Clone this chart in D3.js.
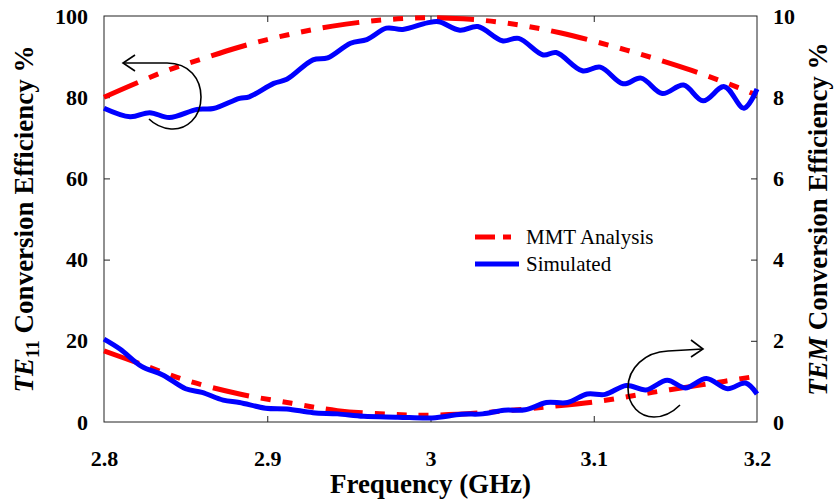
<!DOCTYPE html>
<html>
<head>
<meta charset="utf-8">
<script src="https://d3js.org/d3.v7.min.js"></script>
<style>
  body { margin: 0; background: #fff; }
  text { font-family: "Liberation Serif", "Times New Roman", serif; font-weight: bold; fill: #000; }
  .frame { fill: none; stroke: #222; stroke-width: 1px; }
  .tick line { stroke: #222; }
</style>
</head>
<body>
<svg id="chart" width="834" height="500"></svg>
<script>
// TE11 conversion, MMT analysis (left axis, %)
const mmtTopFreq = [2.80, 2.82, 2.84, 2.86, 2.88, 2.90, 2.92, 2.94, 2.96, 2.98, 3.00, 3.02, 3.04, 3.06, 3.08, 3.10, 3.12, 3.14, 3.16, 3.18, 3.20];
const mmtTop = [80, 83.5, 86.8, 89.4, 92, 94.2, 96, 97.5, 98.6, 99.3, 99.6, 99.3, 98.6, 97.4, 95.8, 93.8, 91.6, 89.2, 86.6, 83.7, 80.5];

// TE11 conversion, simulated (left axis, %)
const simTopFreq = [2.800, 2.816, 2.828, 2.840, 2.857, 2.867, 2.883, 2.889, 2.904, 2.912, 2.928, 2.937, 2.951, 2.961, 2.973, 2.983, 2.998, 3.005, 3.018, 3.029, 3.044, 3.054, 3.069, 3.077, 3.093, 3.104, 3.118, 3.129, 3.142, 3.155, 3.167, 3.180, 3.192, 3.200];
const simTop = [77.3, 75.2, 76.2, 75.0, 77.0, 77.2, 79.7, 80.1, 83.4, 84.4, 89.2, 89.7, 93.3, 94.2, 97.0, 96.7, 98.3, 98.6, 96.5, 97.4, 93.9, 94.5, 90.4, 91.0, 86.5, 87.4, 83.3, 84.7, 80.9, 83.0, 79.1, 82.6, 77.3, 82.0];

// TEM conversion, MMT analysis (right axis, %)
const mmtBotFreq = [2.800, 2.821, 2.850, 2.883, 2.915, 2.943, 2.975, 3.001, 3.032, 3.071, 3.105, 3.136, 3.167, 3.200];
const mmtBot = [1.75, 1.45, 1.03, 0.69, 0.46, 0.28, 0.19, 0.17, 0.23, 0.37, 0.52, 0.73, 0.92, 1.13];

// TEM conversion, simulated (right axis, %)
const simBotFreq = [2.800, 2.810, 2.823, 2.836, 2.850, 2.860, 2.873, 2.883, 2.899, 2.912, 2.928, 2.943, 2.959, 2.980, 3.001, 3.019, 3.032, 3.045, 3.058, 3.071, 3.084, 3.096, 3.107, 3.120, 3.132, 3.145, 3.156, 3.169, 3.182, 3.193, 3.200];
const simBot = [2.04, 1.79, 1.37, 1.16, 0.82, 0.73, 0.54, 0.48, 0.34, 0.32, 0.23, 0.20, 0.14, 0.12, 0.10, 0.19, 0.20, 0.29, 0.30, 0.48, 0.48, 0.69, 0.68, 0.90, 0.79, 1.03, 0.84, 1.07, 0.82, 0.96, 0.69];

const xTicks = [2.8, 2.9, 3.0, 3.1, 3.2];
const xTickLabels = ["2.8", "2.9", "3", "3.1", "3.2"];
const leftTicks = [0, 20, 40, 60, 80, 100];
const rightTicks = [0, 2, 4, 6, 8, 10];
const legendLabels = ["MMT Analysis", "Simulated"];

const svg = d3.select("#chart");
const margin = { top: 16, right: 77, bottom: 78, left: 104 };
const width = 834 - margin.left - margin.right;
const height = 500 - margin.top - margin.bottom;
const g = svg.append("g").attr("transform", "translate(" + margin.left + "," + margin.top + ")");

const x = d3.scaleLinear().domain([2.8, 3.2]).range([0, width]);
const yL = d3.scaleLinear().domain([0, 100]).range([height, 0]);
const yR = d3.scaleLinear().domain([0, 10]).range([height, 0]);

// matlab-ish dash-dot with thick line: one long dash then three short ones
const dashDot = "37,12,10,12,10,12,10,12";

// axes, ticks point inward
const axes = [
  { ax: d3.axisBottom(x).tickValues(xTicks).tickFormat((d, i) => xTickLabels[i]), t: "translate(0," + height + ")" },
  { ax: d3.axisTop(x).tickValues(xTicks).tickFormat(""), t: "translate(0,0)" },
  { ax: d3.axisLeft(yL).tickValues(leftTicks), t: "translate(0,0)" },
  { ax: d3.axisRight(yR).tickValues(rightTicks), t: "translate(" + width + ",0)" }
];
axes.forEach((a, i) => {
  const sel = g.append("g").attr("transform", a.t)
    .call(a.ax.tickSizeInner(-6).tickSizeOuter(0).tickPadding(i < 2 ? 28 : 16));
  sel.select(".domain").remove();
  sel.selectAll("text").style("font-size", "22px").attr("font-family", null);
});
g.selectAll(".tick").filter((d) => d === 0 || d === 100 || d === 10 || d === 2.8 || d === 3.2)
  .select("line").remove();

g.append("rect").attr("class", "frame").attr("width", width).attr("height", height);

const line = (yScale) => d3.line().x((d) => x(d[0])).y((d) => yScale(d[1])).curve(d3.curveCatmullRom.alpha(0.5));

const series = [
  { f: mmtTopFreq, v: mmtTop, y: yL, color: "#ff0000", dash: dashDot },
  { f: mmtBotFreq, v: mmtBot, y: yR, color: "#ff0000", dash: dashDot },
  { f: simTopFreq, v: simTop, y: yL, color: "#0000ff", dash: null },
  { f: simBotFreq, v: simBot, y: yR, color: "#0000ff", dash: null }
];
series.forEach((s) => {
  g.append("path")
    .datum(s.f.map((f, i) => [f, s.v[i]]))
    .attr("fill", "none")
    .attr("stroke", s.color)
    .attr("stroke-width", 5)
    .attr("stroke-dasharray", s.dash)
    .attr("d", line(s.y));
});

// curved arrows pointing at each axis
const arrows = g.append("g").attr("fill", "none").attr("stroke", "#000").attr("stroke-width", 1.6)
  .attr("transform", "translate(" + -margin.left + "," + -margin.top + ")");
arrows.append("path").attr("d", "M123,63 L165,63 C190,62 201,80 201,97 C201,118 186,130 171,129 C161,128 154,124 149,119");
arrows.append("path").attr("d", "M135,55 L123,63 L135,71");
arrows.append("path").attr("d", "M703,349 L668,351 C645,352 628,368 628,388 C628,406 640,417 654,417 C664,417 673,412 680,405");
arrows.append("path").attr("d", "M691,340 L703,349 L691,357");

// legend
const legend = g.append("g").attr("transform", "translate(" + (475 - margin.left) + "," + (237 - margin.top) + ")");
legendLabels.forEach((lab, i) => {
  const row = legend.append("g").attr("transform", "translate(0," + i * 27 + ")");
  row.append("line").attr("x1", 0).attr("x2", 44)
    .attr("stroke", i === 0 ? "#ff0000" : "#0000ff").attr("stroke-width", 5)
    .attr("stroke-dasharray", i === 0 ? "20,8,8,8" : null);
  row.append("text").attr("x", 51).attr("y", 7).style("font-size", "21px").style("font-weight", "normal").text(lab);
});

// axis titles
svg.append("text").attr("x", margin.left + width / 2).attr("y", 493).attr("text-anchor", "middle")
  .style("font-size", "27px").text("Frequency (GHz)");

const lt = svg.append("text").attr("transform", "translate(33," + (margin.top + height / 2) + ") rotate(-90)")
  .attr("text-anchor", "middle").style("font-size", "27px");
lt.append("tspan").style("font-style", "italic").text("TE");
lt.append("tspan").attr("dy", 6).style("font-size", "19px").text("11");
lt.append("tspan").attr("dy", -6).text(" Conversion Efficiency %");

const rt = svg.append("text").attr("transform", "translate(827," + (margin.top + height / 2) + ") rotate(-90)")
  .attr("text-anchor", "middle").style("font-size", "27px");
rt.append("tspan").style("font-style", "italic").text("TEM");
rt.append("tspan").text(" Conversion Efficiency %");
</script>
</body>
</html>
